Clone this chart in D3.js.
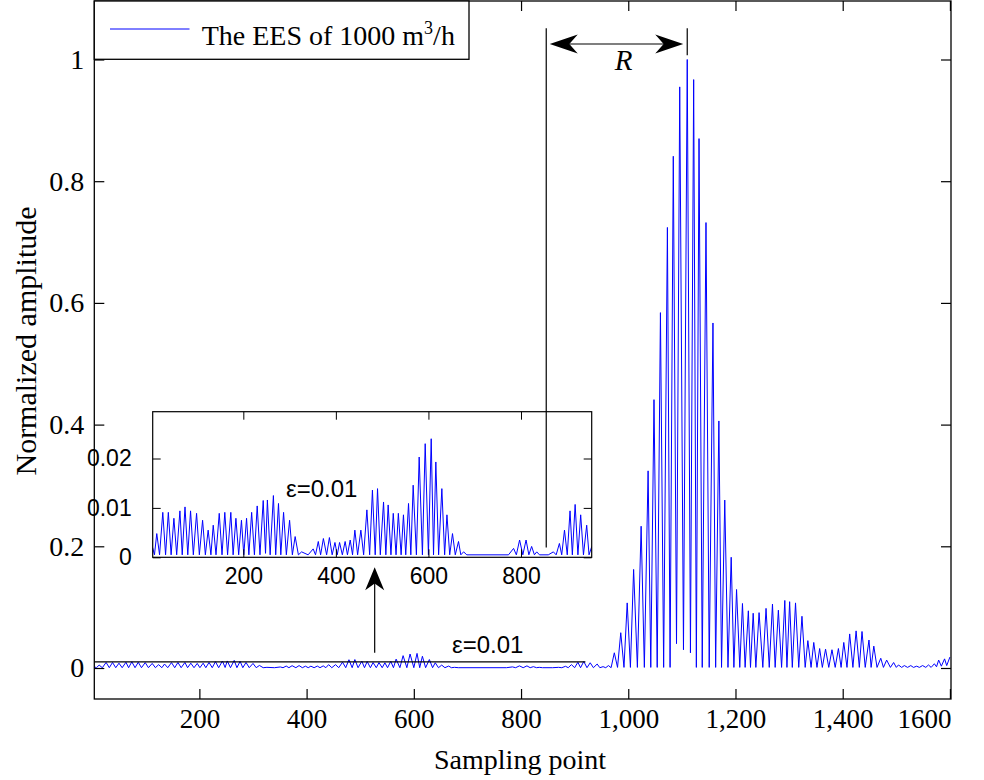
<!DOCTYPE html>
<html>
<head>
<meta charset="utf-8">
<script src="https://cdnjs.cloudflare.com/ajax/libs/d3/7.8.5/d3.min.js"></script>
<style>
  body { margin: 0; background: #fff; }
  svg { display: block; }
</style>
</head>
<body>
<svg id="chart" width="984" height="780"></svg>
<script>
// ---------------- data ----------------
const sampleIdx = [
  4, 8, 13, 19, 26, 32, 38, 44, 50, 56, 63, 68, 74, 80, 86, 92, 99, 105, 112, 118,
  124, 130, 135, 141, 148, 154, 160, 166, 173, 178, 184, 190, 196, 201, 207, 212, 218, 224, 230, 236,
  243, 248, 252, 258, 265, 270, 276, 281, 287, 293, 300, 306, 312, 319, 326, 340, 351, 356, 362, 367,
  373, 380, 386, 392, 398, 403, 408, 414, 420, 425, 431, 436, 441, 447, 454, 460, 467, 473, 479, 485,
  490, 496, 503, 508, 513, 519, 524, 530, 535, 541, 546, 551, 557, 562, 567, 574, 580, 587, 593, 600,
  606, 611, 616, 622, 629, 635, 640, 646, 652, 658, 665, 670, 676, 683, 773, 784, 790, 797, 804, 811,
  817, 823, 829, 834, 840, 859, 870, 876, 883, 888, 894, 900, 906, 911, 917, 923, 929, 935, 942, 947,
  953, 958, 963, 968, 974, 980, 986, 992, 998, 1004, 1010, 1017, 1024, 1030, 1037, 1042, 1048, 1054, 1060, 1066,
  1073, 1078, 1084, 1090, 1096, 1103, 1110, 1116, 1122, 1127, 1132, 1138, 1145, 1151, 1158, 1163, 1169, 1174, 1180, 1186,
  1192, 1197, 1202, 1208, 1213, 1218, 1224, 1228, 1233, 1238, 1244, 1251, 1257, 1263, 1269, 1274, 1280, 1286, 1292, 1296,
  1301, 1306, 1312, 1318, 1324, 1330, 1335, 1341, 1346, 1352, 1357, 1362, 1368, 1374, 1380, 1386, 1392, 1397, 1402, 1408,
  1413, 1419, 1425, 1431, 1436, 1442, 1449, 1453, 1458, 1464, 1471, 1476, 1482, 1489, 1495, 1500, 1504, 1510, 1515, 1521,
  1527, 1532, 1538, 1543, 1549, 1555, 1560, 1565, 1571, 1575, 1579, 1584, 1590, 1594, 1600
];
const amplitude = [
  0.002, 0.0005, 0.0048, 0.0005, 0.0091, 0.0005, 0.0091, 0.0005, 0.0079, 0.0005, 0.0094, 0.0005, 0.0102, 0.0005, 0.0094, 0.0005, 0.0089, 0.0005, 0.0075, 0.0005,
  0.0055, 0.0005, 0.0065, 0.0005, 0.0089, 0.0005, 0.0091, 0.0005, 0.0091, 0.0005, 0.0079, 0.0005, 0.0075, 0.0005, 0.0079, 0.0005, 0.0091, 0.0005, 0.0104, 0.0005,
  0.0115, 0.0008, 0.0116, 0.0005, 0.0125, 0.0005, 0.0109, 0.0005, 0.0091, 0.0005, 0.0075, 0.0005, 0.0042, 0.0005, 0.0011, 0.0005, 0.0017, 0.0005, 0.0032, 0.0005,
  0.0038, 0.0005, 0.0040, 0.0005, 0.0030, 0.0005, 0.0030, 0.0005, 0.0032, 0.0005, 0.0035, 0.0005, 0.0055, 0.0005, 0.0055, 0.0005, 0.0096, 0.0005, 0.0136, 0.0005,
  0.0139, 0.0005, 0.0112, 0.0005, 0.0106, 0.0005, 0.0089, 0.0005, 0.0089, 0.0005, 0.0086, 0.0005, 0.0109, 0.0005, 0.0146, 0.0005, 0.0203, 0.0005, 0.0230, 0.0005,
  0.0240, 0.0005, 0.0193, 0.0005, 0.0139, 0.0005, 0.0086, 0.0005, 0.0048, 0.0005, 0.0032, 0.0005, 0.0011, 0.0005, 0.0005, 0.0018, 0.0005, 0.0035, 0.0005, 0.0035,
  0.0005, 0.0022, 0.0005, 0.0011, 0.0005, 0.0005, 0.0011, 0.0005, 0.0028, 0.0005, 0.0055, 0.0005, 0.0094, 0.0005, 0.0107, 0.0005, 0.0086, 0.0005, 0.0065, 0.0005,
  0.0022, 0.0005, 0.0040, 0.0005, 0.025, 0.001, 0.058, 0.001, 0.107, 0.001, 0.162, 0.001, 0.233, 0.001, 0.324, 0.001, 0.441, 0.001, 0.584, 0.001,
  0.724, 0.001, 0.841, 0.040, 0.955, 0.030, 1.000, 0.025, 0.967, 0.001, 0.870, 0.001, 0.732, 0.001, 0.567, 0.001, 0.406, 0.001, 0.276, 0.001,
  0.182, 0.001, 0.129, 0.001, 0.106, 0.001, 0.094, 0.001, 0.090, 0.001, 0.091, 0.001, 0.098, 0.001, 0.105, 0.001, 0.095, 0.001, 0.111, 0.001,
  0.109, 0.001, 0.107, 0.001, 0.085, 0.001, 0.045, 0.001, 0.042, 0.001, 0.032, 0.001, 0.031, 0.001, 0.030, 0.001, 0.032, 0.001, 0.042, 0.001,
  0.056, 0.001, 0.061, 0.001, 0.060, 0.001, 0.046, 0.001, 0.036, 0.001, 0.016, 0.001, 0.013, 0.001, 0.009, 0.001, 0.005, 0.001, 0.004, 0.001,
  0.004, 0.001, 0.003, 0.001, 0.004, 0.001, 0.005, 0.001, 0.007, 0.002, 0.013, 0.003, 0.015, 0.004, 0.018
];

const xTicks = [200, 400, 600, 800, 1000, 1200, 1400, 1600];
const xTickLabels = ["200", "400", "600", "800", "1,000", "1,200", "1,400", "1600"];
const yTicks = [0, 0.2, 0.4, 0.6, 0.8, 1];
const yTickLabels = ["0", "0.2", "0.4", "0.6", "0.8", "1"];

const insetXTicks = [200, 400, 600, 800];
const insetXTickLabels = ["200", "400", "600", "800"];
const insetYTicks = [0, 0.01, 0.02];
const insetYTickLabels = ["0", "0.01", "0.02"];

const legendLabel = "The EES of 1000 m";
const threshold = 0.01;           // ε
const thresholdEnd = 920;         // sample where the ε line stops
const rStart = 847;               // left edge of R bracket (sample)
const rEnd = 1110;                // main-peak sample
const arrowSample = 527;          // upward arrow position (sample)

// ---------------- layout ----------------
const svg = d3.select("#chart");
const serif = "'Liberation Serif', 'Times New Roman', serif";
const sans = "'Liberation Sans', Arial, sans-serif";
const data = sampleIdx.map((s, i) => ({ s, v: amplitude[i] }));

const L = 94.3, R = 951, T = 1, B = 699;
const x = d3.scaleLinear().domain([4, 1602]).range([L, R]);
const y = d3.scaleLinear().domain([0, 1]).range([668, 59.5]);

svg.append("defs").append("clipPath").attr("id", "clipMain")
  .append("rect").attr("x", L).attr("y", T).attr("width", R - L).attr("height", B - T);

// main trace
svg.append("path").datum(data)
  .attr("clip-path", "url(#clipMain)")
  .attr("fill", "none").attr("stroke", "#0000ff").attr("stroke-width", 1)
  .attr("stroke-linejoin", "round")
  .attr("d", d3.line().x(d => x(d.s)).y(d => y(d.v)));

// threshold line
svg.append("line")
  .attr("x1", x(4)).attr("x2", x(thresholdEnd))
  .attr("y1", y(threshold)).attr("y2", y(threshold))
  .attr("stroke", "#000").attr("stroke-width", 1.2);

// axes (inward ticks on all four sides)
function styleAxis(g, size) {
  g.select(".domain").remove();
  g.selectAll("line").attr("stroke", "#000").attr("stroke-width", 1.2);
  g.selectAll("text").attr("font-family", serif).attr("font-size", size).attr("fill", "#000");
}
const gx = svg.append("g").attr("transform", `translate(0,${B})`)
  .call(d3.axisBottom(x).tickValues(xTicks).tickFormat((d, i) => xTickLabels[i])
    .tickSize(-10).tickSizeOuter(0).tickPadding(10));
styleAxis(gx, 27);
gx.selectAll("text").filter(d => d === 1600).attr("text-anchor", "end").attr("x", x(1602) - x(1600));

const gxt = svg.append("g").attr("transform", `translate(0,${T})`)
  .call(d3.axisTop(x).tickValues(xTicks).tickFormat("").tickSize(-10).tickSizeOuter(0));
styleAxis(gxt, 27);

const gy = svg.append("g").attr("transform", `translate(${L},0)`)
  .call(d3.axisLeft(y).tickValues(yTicks).tickFormat((d, i) => yTickLabels[i])
    .tickSize(-10).tickSizeOuter(0).tickPadding(10));
styleAxis(gy, 28);

const gyr = svg.append("g").attr("transform", `translate(${R},0)`)
  .call(d3.axisRight(y).tickValues(yTicks).tickFormat("").tickSize(-10).tickSizeOuter(0));
styleAxis(gyr, 27);

svg.append("rect").attr("x", L).attr("y", T).attr("width", R - L).attr("height", B - T)
  .attr("fill", "none").attr("stroke", "#000").attr("stroke-width", 1.3);

// axis titles
svg.append("text").attr("x", 520).attr("y", 769).attr("text-anchor", "middle")
  .attr("font-family", serif).attr("font-size", 28).text("Sampling point");
svg.append("text").attr("transform", "translate(36,341) rotate(-90)").attr("text-anchor", "middle")
  .attr("font-family", serif).attr("font-size", 30).text("Normalized amplitude");

// main ε label
svg.append("text").attr("x", 452).attr("y", 653)
  .attr("font-family", sans).attr("font-size", 24).text("ε=0.01");

// ---------------- inset ----------------
const iL = 152.7, iR = 591.7, iT = 411.7, iB = 557.3;
const xi = d3.scaleLinear().domain([4.2, 952.8]).range([iL, iR]);
const yi = d3.scaleLinear().domain([0, 0.01]).range([iB, 507.9]);

svg.append("rect").attr("x", iL).attr("y", iT).attr("width", iR - iL).attr("height", iB - iT)
  .attr("fill", "#fff");
svg.select("defs").append("clipPath").attr("id", "clipInset")
  .append("rect").attr("x", iL).attr("y", iT).attr("width", iR - iL).attr("height", iB - iT);

svg.append("path").datum(data)
  .attr("clip-path", "url(#clipInset)")
  .attr("fill", "none").attr("stroke", "#0000ff").attr("stroke-width", 1)
  .attr("stroke-linejoin", "round")
  .attr("d", d3.line().x(d => xi(d.s)).y(d => yi(d.v)));

function styleInsetAxis(g) {
  g.select(".domain").remove();
  g.selectAll("line").attr("stroke", "#000").attr("stroke-width", 1);
  g.selectAll("text").attr("font-family", sans).attr("font-size", 23).attr("fill", "#000");
}
const gix = svg.append("g").attr("transform", `translate(0,${iB})`)
  .call(d3.axisBottom(xi).tickValues(insetXTicks).tickFormat((d, i) => insetXTickLabels[i])
    .tickSize(-8).tickSizeOuter(0).tickPadding(10));
styleInsetAxis(gix);
const gixt = svg.append("g").attr("transform", `translate(0,${iT})`)
  .call(d3.axisTop(xi).tickValues(insetXTicks).tickFormat("").tickSize(-8).tickSizeOuter(0));
styleInsetAxis(gixt);
const giy = svg.append("g").attr("transform", `translate(${iL},0)`)
  .call(d3.axisLeft(yi).tickValues(insetYTicks).tickFormat((d, i) => insetYTickLabels[i])
    .tickSize(-8).tickSizeOuter(0).tickPadding(21));
styleInsetAxis(giy);
const giyr = svg.append("g").attr("transform", `translate(${iR},0)`)
  .call(d3.axisRight(yi).tickValues(insetYTicks).tickFormat("").tickSize(-8).tickSizeOuter(0));
styleInsetAxis(giyr);

svg.append("rect").attr("x", iL).attr("y", iT).attr("width", iR - iL).attr("height", iB - iT)
  .attr("fill", "none").attr("stroke", "#000").attr("stroke-width", 1.2);

svg.append("text").attr("x", 286).attr("y", 497)
  .attr("font-family", sans).attr("font-size", 24).text("ε=0.01");

// ---------------- annotations ----------------
function arrowHead(tipX, tipY, dirX, dirY, len, half) {
  // dir = unit vector pointing toward the tip
  const bx = tipX - dirX * len, by = tipY - dirY * len;
  const nx = -dirY, ny = dirX;
  const notchX = tipX - dirX * len * 0.7, notchY = tipY - dirY * len * 0.7;
  svg.append("path")
    .attr("d", `M${tipX},${tipY} L${bx + nx * half},${by + ny * half} L${notchX},${notchY} L${bx - nx * half},${by - ny * half} Z`)
    .attr("fill", "#000");
}

const yTopLine = 1.0513, yArrow = 1.0255, yRightBottom = 1.007, yLeftBottom = 0.198;
// vertical bracket lines
svg.append("line").attr("x1", x(rStart)).attr("x2", x(rStart))
  .attr("y1", y(yTopLine)).attr("y2", y(yLeftBottom)).attr("stroke", "#000").attr("stroke-width", 1.2);
svg.append("line").attr("x1", x(rEnd)).attr("x2", x(rEnd))
  .attr("y1", y(yTopLine)).attr("y2", y(yRightBottom)).attr("stroke", "#000").attr("stroke-width", 1.2);
// double arrow
const ax1 = x(rStart) + 3.5, ax2 = x(rEnd) - 4, ay = y(yArrow);
svg.append("line").attr("x1", ax1 + 10).attr("x2", ax2 - 10).attr("y1", ay).attr("y2", ay)
  .attr("stroke", "#000").attr("stroke-width", 1.2);
arrowHead(ax1, ay, -1, 0, 28, 9.5);
arrowHead(ax2, ay, 1, 0, 28, 9.5);
svg.append("text").attr("x", (ax1 + ax2) / 2 + 7).attr("y", 70).attr("text-anchor", "middle")
  .attr("font-family", serif).attr("font-style", "italic").attr("font-size", 29).text("R");

// upward arrow into inset
const upX = x(arrowSample), upBottom = y(0.0251), upTip = y(0.1655);
svg.append("line").attr("x1", upX).attr("x2", upX).attr("y1", upBottom).attr("y2", upTip + 10)
  .attr("stroke", "#000").attr("stroke-width", 1.2);
arrowHead(upX, upTip, 0, -1, 23, 9.5);

// ---------------- legend ----------------
svg.append("rect").attr("x", L).attr("y", T).attr("width", 469 - L).attr("height", 59.3 - T)
  .attr("fill", "#fff").attr("stroke", "#000").attr("stroke-width", 1.3);
svg.append("line").attr("x1", 110).attr("x2", 189.5).attr("y1", 29).attr("y2", 29)
  .attr("stroke", "#0000ff").attr("stroke-width", 1);
const lt = svg.append("text").attr("x", 201.7).attr("y", 45)
  .attr("font-family", serif).attr("font-size", 28);
lt.append("tspan").text(legendLabel);
lt.append("tspan").attr("font-size", 18).attr("dy", -11).text("3");
lt.append("tspan").attr("dy", 11).text("/h");
</script>
</body>
</html>
